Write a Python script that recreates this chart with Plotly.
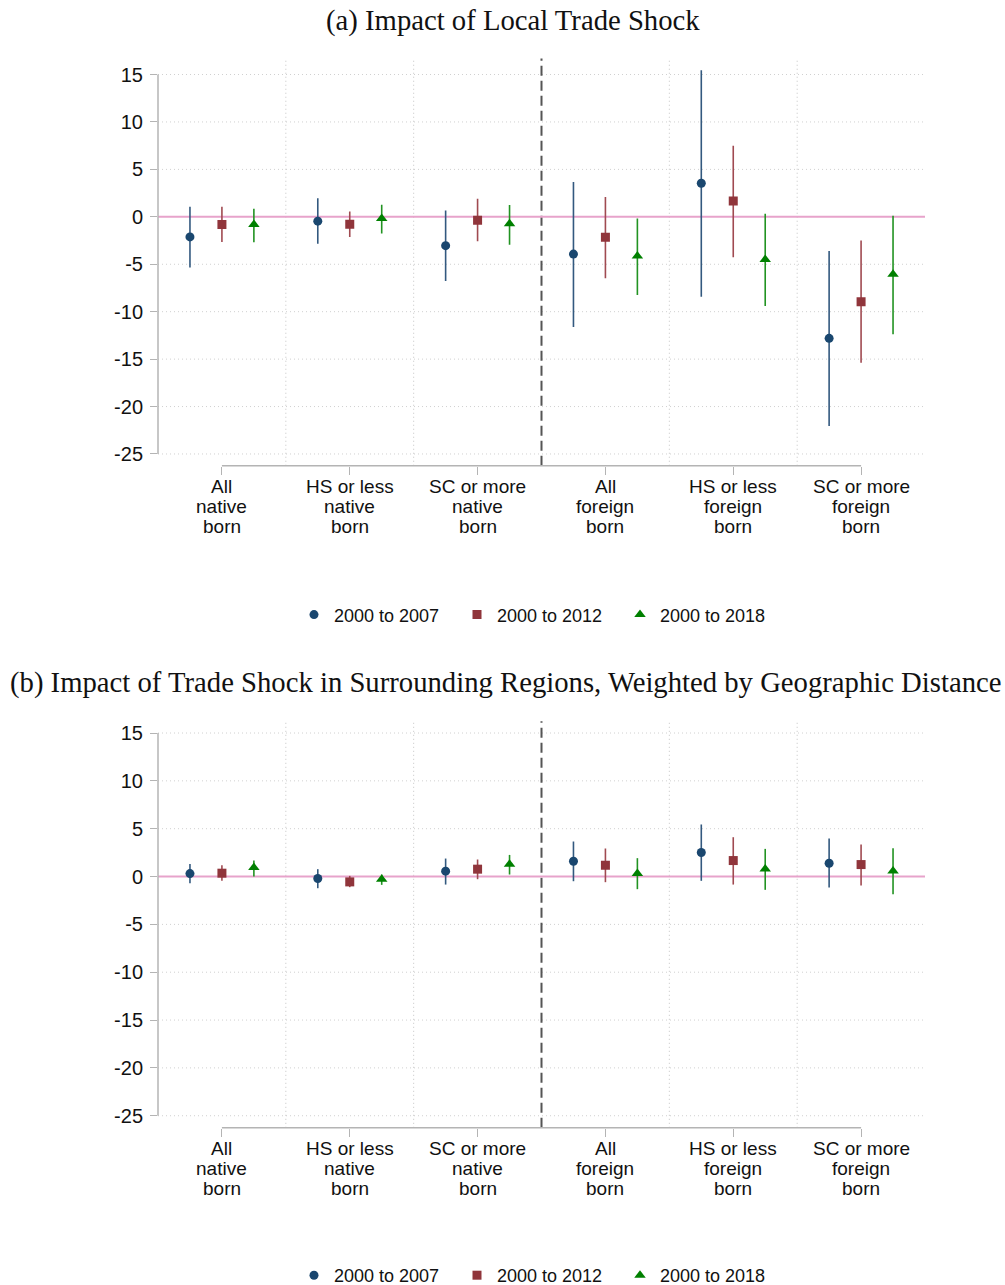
import numpy as np
import plotly.graph_objects as go

# ---------------- data ----------------
cat_lines = [
    ["All", "native", "born"],
    ["HS or less", "native", "born"],
    ["SC or more", "native", "born"],
    ["All", "foreign", "born"],
    ["HS or less", "foreign", "born"],
    ["SC or more", "foreign", "born"],
]
series_names = ["2000 to 2007", "2000 to 2012", "2000 to 2018"]
yticks = [-25, -20, -15, -10, -5, 0, 5, 10, 15]

# Panel (a): Impact of Local Trade Shock
a_07 = [-2.12, -0.46, -3.04, -3.93, 3.54, -12.81]
a_07_lo = [-5.34, -2.83, -6.76, -11.61, -8.42, -22.05]
a_07_hi = [1.06, 1.95, 0.67, 3.68, 15.46, -3.61]
a_12 = [-0.81, -0.78, -0.35, -2.16, 1.66, -8.95]
a_12_lo = [-2.65, -2.12, -2.58, -6.48, -4.25, -15.39]
a_12_hi = [1.06, 0.57, 1.91, 2.09, 7.50, -2.51]
a_18 = [-0.80, -0.18, -0.74, -4.14, -4.49, -6.05]
a_18_lo = [-2.69, -1.77, -2.94, -8.24, -9.41, -12.38]
a_18_hi = [0.85, 1.27, 1.24, -0.18, 0.32, 0.11]

# Panel (b): Impact of Trade Shock in Surrounding Regions
b_07 = [0.31, -0.21, 0.56, 1.60, 2.51, 1.39]
b_07_lo = [-0.70, -1.22, -0.84, -0.49, -0.45, -1.15]
b_07_hi = [1.32, 0.77, 1.88, 3.66, 5.44, 3.97]
b_12 = [0.35, -0.56, 0.77, 1.18, 1.67, 1.25]
b_12_lo = [-0.45, -1.11, -0.28, -0.59, -0.84, -0.94]
b_12_hi = [1.18, 0.07, 1.78, 2.93, 4.11, 3.34]
b_18 = [0.94, -0.28, 1.29, 0.31, 0.80, 0.59]
b_18_lo = [0.00, -0.87, 0.21, -1.32, -1.39, -1.85]
b_18_hi = [1.67, 0.21, 2.26, 1.92, 2.89, 2.96]

# ---------------- styles ----------------
W, H = 1005, 1294
REF_H = 1285
colors = ["#1a476f", "#90353b", "#008000"]
ci_colors = ["#33597f", "#a04a51", "#229322"]
symbols = ["circle", "square", "triangle-up"]
msizes = [9, 9, 10]
offsets = [-0.25, 0.0, 0.25]
SANS = "Liberation Sans, Arial, sans-serif"
SERIF = "Liberation Serif, Times New Roman, serif"
AXC = "#b4b4b4"


def px(p):
    return p / W


def py(p):
    return 1 - p / REF_H


panels = [
    dict(series=[(a_07, a_07_lo, a_07_hi), (a_12, a_12_lo, a_12_hi), (a_18, a_18_lo, a_18_hi)],
         top=58.3, bottom=464.3, yrange=[-26.24, 16.69], xa="x", ya="y", xn="xaxis", yn="yaxis",
         legend="legend", title="(a) Impact of Local Trade Shock", tx=513, ty=20, tsize=28.7, leg_y=613),
    dict(series=[(b_07, b_07_lo, b_07_hi), (b_12, b_12_lo, b_12_hi), (b_18, b_18_lo, b_18_hi)],
         top=719.0, bottom=1124.3, yrange=[-26.26, 16.23], xa="x2", ya="y2", xn="xaxis2", yn="yaxis2",
         legend="legend2",
         title="(b) Impact of Trade Shock in Surrounding Regions, Weighted by Geographic Distance",
         tx=505, ty=680, tsize=28.7, leg_y=1272),
]

fig = go.Figure()
shapes = []
annotations = []
layout = {}
xdom = [px(158), px(925)]
ncat = len(cat_lines)

for P in panels:
    for k, (vals, lo, hi) in enumerate(P["series"]):
        v = np.array(vals)
        xs = np.arange(ncat) + offsets[k]
        fig.add_trace(go.Scatter(
            x=xs, y=v, mode="markers", name=series_names[k],
            xaxis=P["xa"], yaxis=P["ya"], legend=P["legend"],
            marker=dict(color=colors[k], symbol=symbols[k], size=msizes[k], line=dict(width=0)),
            error_y=dict(type="data", symmetric=False,
                         array=np.array(hi) - v, arrayminus=v - np.array(lo),
                         color=ci_colors[k], thickness=1.6, width=0),
        ))
    layout[P["xn"]] = dict(
        domain=xdom, range=[-0.5, ncat - 0.5], anchor=P["ya"],
        tickvals=list(range(ncat)), ticktext=[""] * ncat,
        ticks="outside", ticklen=8, tickcolor=AXC, tickwidth=1.3,
        showgrid=False, zeroline=False, showline=False, fixedrange=True,
    )
    layout[P["yn"]] = dict(
        domain=[py(P["bottom"]), py(P["top"])], range=P["yrange"], anchor=P["xa"],
        tickvals=yticks, ticktext=[str(t) for t in yticks],
        ticks="outside", ticklen=7, tickcolor=AXC, tickwidth=1.3,
        tickfont=dict(family=SANS, size=20, color="#111111"), ticklabelstandoff=3,
        showgrid=False, zeroline=False, showline=False, fixedrange=True,
    )
    # dotted horizontal gridlines
    for t in yticks:
        if t == 0:
            continue
        shapes.append(dict(type="line", xref=P["xa"] + " domain", yref=P["ya"], x0=0, x1=1, y0=t, y1=t,
                           line=dict(color="#d0d0d0", width=1, dash="1px,3px"), layer="below"))
    # separators between categories
    for i in range(ncat - 1):
        xm = i + 0.5
        if i == 2:
            ln = dict(color="#555555", width=2, dash="10px,5px")
        else:
            ln = dict(color="#c4c4c4", width=1, dash="1px,3px")
        shapes.append(dict(type="line", xref=P["xa"], yref=P["ya"] + " domain", x0=xm, x1=xm,
                           y0=0, y1=1, line=ln, layer="below"))
    # zero reference line
    shapes.append(dict(type="line", xref=P["xa"] + " domain", yref=P["ya"], x0=0, x1=1, y0=0, y1=0,
                       line=dict(color="#e7a3cb", width=2), layer="below"))
    # axis lines limited to tick range (Stata style)
    shapes.append(dict(type="line", xref="paper", yref=P["ya"], x0=xdom[0], x1=xdom[0],
                       y0=yticks[0], y1=yticks[-1], line=dict(color=AXC, width=1.5), layer="below"))
    shapes.append(dict(type="line", xref=P["xa"], yref=P["ya"] + " domain", x0=0, x1=ncat - 1,
                       y0=0, y1=0, line=dict(color=AXC, width=1.5), layer="below"))
    # multi-line category labels
    base = P["bottom"]
    for i, lines in enumerate(cat_lines):
        for j, t in enumerate(lines):
            annotations.append(dict(text=t, xref=P["xa"], yref="paper", x=i, y=py(base + 21 + 19.6 * j),
                                    xanchor="center", yanchor="middle", showarrow=False,
                                    font=dict(family=SANS, size=19, color="#111111")))
    # title
    annotations.append(dict(text=P["title"], xref="paper", yref="paper", x=px(P["tx"]), y=py(P["ty"]),
                            xanchor="center", yanchor="middle", showarrow=False,
                            font=dict(family=SERIF, size=P["tsize"], color="#111111")))
    layout[P["legend"]] = dict(
        orientation="h", x=px(313 - 19), xanchor="left", y=py(P["leg_y"]), yanchor="middle",
        font=dict(family=SANS, size=18, color="#111111"), entrywidth=118, entrywidthmode="pixels",
        bgcolor="rgba(0,0,0,0)", borderwidth=0, itemclick=False, itemdoubleclick=False,
    )

fig.update_layout(
    width=W, height=H, margin=dict(l=0, r=0, t=0, b=0),
    paper_bgcolor="white", plot_bgcolor="white",
    shapes=shapes, annotations=annotations, showlegend=True,
    **layout,
)

fig.write_html(
    "out.html", config={"displayModeBar": False},
    post_script=("document.body.style.margin='0';"
                 "document.body.style.overflow='hidden';"
                 "document.documentElement.style.overflow='hidden';"),
)
